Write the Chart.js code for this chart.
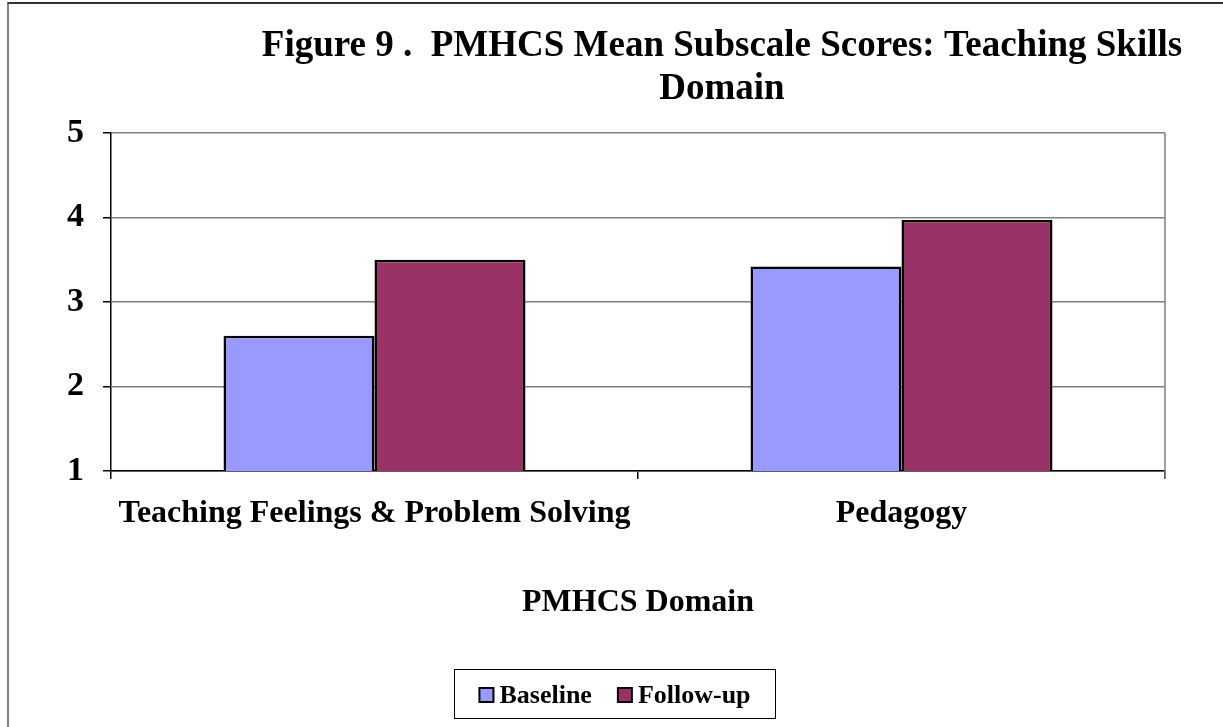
<!DOCTYPE html>
<html>
<head>
<meta charset="utf-8">
<script src="https://cdn.jsdelivr.net/npm/chart.js@4/dist/chart.umd.min.js"></script>
<style>
    body { margin: 0; background: #fff; }
    #frame {
        position: absolute; left: 7px; top: 2px; width: 1300px; height: 800px;
        border-left: 2px solid #808080; border-top: 2px solid #333;
    }
    #chart { position: absolute; left: 0; top: 0; }
</style>
</head>
<body>
<div id="frame"></div>
<canvas id="chart" width="1223" height="727"></canvas>
<script>
// Chart data
const categories = ['Teaching Feelings & Problem Solving', 'Pedagogy'];
const baselineScores = [2.6, 3.42];
const followUpScores = [3.5, 3.97];
const yTicks = [1, 2, 3, 4, 5];
const titleLines = ['Figure 9 .  PMHCS Mean Subscale Scores: Teaching Skills', 'Domain'];
const axisTitle = 'PMHCS Domain';

const serif = '"Liberation Serif", "Times New Roman", serif';

// Title drawn above the plot, offset right like the original
const titlePlugin = {
    id: 'figTitle',
    afterDraw(chart) {
        const ctx = chart.ctx;
        ctx.save();
        ctx.font = 'bold 37px ' + serif;
        ctx.fillStyle = '#000';
        ctx.textAlign = 'center';
        ctx.textBaseline = 'alphabetic';
        ctx.fillText(titleLines[0], 722, 56);
        ctx.fillText(titleLines[1], 722, 99);
        ctx.restore();
    }
};

// Grey right border of the plot area
const frameRight = {
    id: 'frameRight',
    beforeDatasetsDraw(chart) {
        const {ctx, chartArea} = chart;
        ctx.save();
        ctx.strokeStyle = '#808080';
        ctx.lineWidth = 1.5;
        ctx.beginPath();
        ctx.moveTo(chartArea.right, chartArea.top);
        ctx.lineTo(chartArea.right, chartArea.bottom + 8);
        ctx.stroke();
        ctx.restore();
    }
};

// Boxed legend at the bottom
const boxLegend = {
    id: 'boxLegend',
    afterDraw(chart) {
        const ctx = chart.ctx;
        const sets = chart.data.datasets;
        ctx.save();
        ctx.font = 'bold 26px ' + serif;
        const sq = 14, gap = 6, between = 26, pad = 25;
        const widths = sets.map(d => ctx.measureText(d.label).width);
        let total = widths.reduce((a, b) => a + b, 0) + sets.length * (sq + gap) + between * (sets.length - 1);
        const cx = 615, top = 669, h = 49;
        const left = cx - total / 2 - pad;
        ctx.strokeStyle = '#000';
        ctx.lineWidth = 1;
        ctx.strokeRect(Math.round(left) + 0.5, top + 0.5, Math.round(total + pad * 2), h);
        let x = left + pad;
        ctx.textBaseline = 'alphabetic';
        ctx.textAlign = 'left';
        sets.forEach((d, i) => {
            ctx.fillStyle = d.backgroundColor;
            ctx.fillRect(x, 688, sq, sq);
            ctx.lineWidth = 2;
            ctx.strokeRect(x, 688, sq, sq);
            ctx.fillStyle = '#000';
            ctx.fillText(d.label, x + sq + gap, 703);
            x += sq + gap + widths[i] + between;
        });
        ctx.restore();
    }
};

new Chart(document.getElementById('chart').getContext('2d'), {
    type: 'bar',
    data: {
        labels: categories,
        datasets: [
            {
                label: 'Baseline',
                data: baselineScores,
                backgroundColor: '#9999FF',
                borderColor: '#000',
                borderWidth: 2.5,
                borderSkipped: false
            },
            {
                label: 'Follow-up',
                data: followUpScores,
                backgroundColor: '#993366',
                borderColor: '#000',
                borderWidth: 2.5,
                borderSkipped: false
            }
        ]
    },
    options: {
        responsive: false,
        animation: false,
        devicePixelRatio: 1,
        categoryPercentage: 0.573,
        barPercentage: 1,
        layout: {
            padding: {top: 133, right: 58, bottom: 105, left: 0}
        },
        plugins: {
            legend: {display: false},
            title: {display: false},
            tooltip: {enabled: false}
        },
        scales: {
            x: {
                afterFit: s => { s.height = 151; },
                grid: {
                    drawOnChartArea: false,
                    tickLength: 8,
                    color: '#000',
                    lineWidth: 1.5
                },
                border: {color: '#000', width: 1.5},
                ticks: {
                    color: '#000',
                    padding: 16,
                    maxRotation: 0,
                    font: {family: serif, size: 32, weight: 'bold'}
                },
                title: {
                    display: true,
                    text: axisTitle,
                    color: '#000',
                    padding: 0,
                    font: {family: serif, size: 32, weight: 'bold'}
                }
            },
            y: {
                min: 1,
                max: 5,
                afterFit: s => { s.width = 111; },
                afterBuildTicks: s => { s.ticks = yTicks.map(v => ({value: v})); },
                grid: {
                    color: '#808080',
                    lineWidth: 1.5,
                    tickColor: '#000',
                    tickLength: 8
                },
                border: {color: '#000', width: 1.5},
                ticks: {
                    color: '#000',
                    padding: 19,
                    font: {family: serif, size: 34, weight: 'bold'}
                }
            }
        }
    },
    plugins: [titlePlugin, frameRight, boxLegend]
});
</script>
</body>
</html>
